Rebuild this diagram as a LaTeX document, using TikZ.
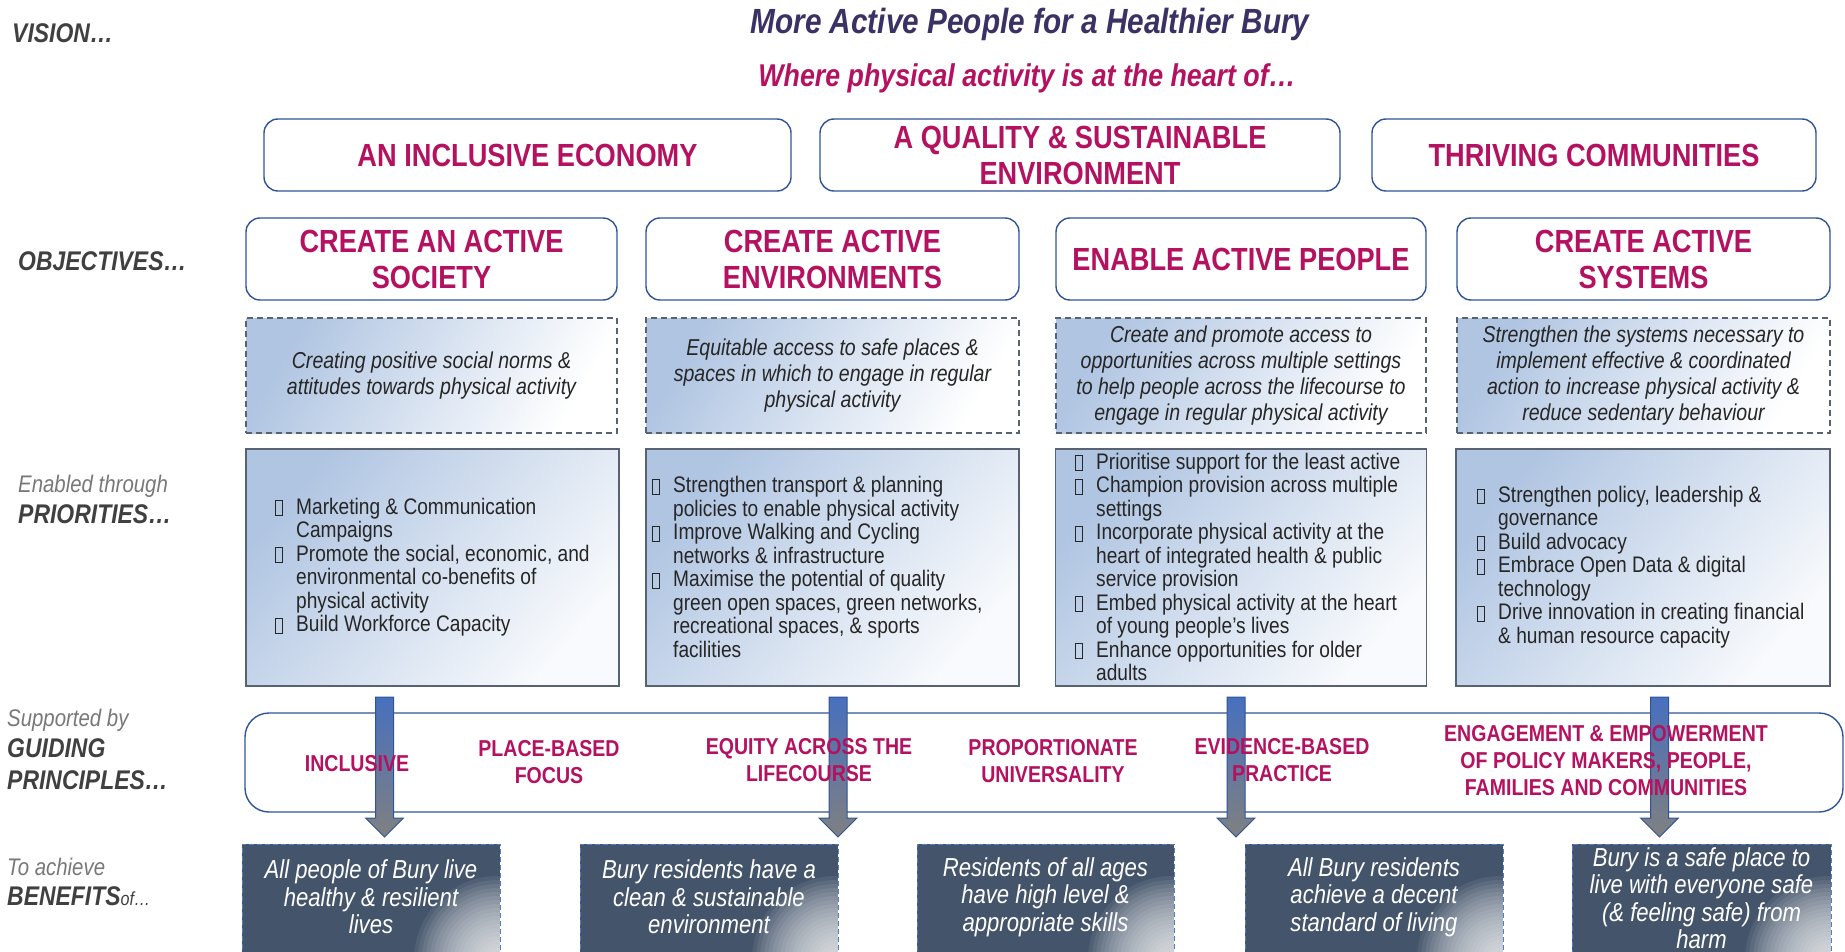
\documentclass[tikz,border=0pt]{standalone}
\usepackage{fontspec}
\setmainfont{Liberation Sans}[FakeStretch=0.85]
\usetikzlibrary{calc,positioning}

\definecolor{bmag}{RGB}{180,18,96}
\definecolor{btitle}{RGB}{58,50,100}
\definecolor{bblue}{RGB}{47,84,150}
\definecolor{bgrad}{RGB}{176,197,226}
\definecolor{bline}{RGB}{88,98,115}
\definecolor{bslate}{RGB}{68,84,106}
\definecolor{btext}{RGB}{38,38,38}
\definecolor{blabel}{RGB}{64,64,64}
\definecolor{bsoft}{RGB}{120,120,120}
\definecolor{arrtop}{RGB}{72,112,190}
\definecolor{arrbot}{RGB}{128,128,128}
\definecolor{bdash}{RGB}{78,125,205}

\newcommand\fs[2]{\fontsize{#1}{#2}\selectfont}
\newcommand\bul{\makebox[21pt][l]{\raisebox{-1pt}{\setlength\fboxsep{0pt}\setlength\fboxrule{0.8pt}\fbox{\rule{0pt}{14pt}\hspace{6pt}}}}}
\newcommand\ind{\hspace*{21pt}}

\tikzstyle{headbox}=[draw=bblue,line width=1.4pt,rounded corners=14pt,fill=white,text=bmag,font=\bfseries\fs{32}{36},align=center]
\tikzstyle{aimbox}=[draw=bline,line width=1.2pt,dash pattern=on 6pt off 4pt,top color=bgrad,bottom color=white,shading angle=60,text=btext,font=\itshape\fs{23}{26},align=center]
\tikzstyle{prbox}=[draw=bline,line width=1.2pt,top color=bgrad,bottom color=white!92!bgrad,shading angle=50]
\tikzstyle{prtext}=[anchor=west,text=btext,font=\fs{22.5}{23.5},align=left,inner sep=0pt]
\tikzstyle{gptext}=[text=bmag,font=\bfseries\fs{23}{27},align=center]
% white glare in the lower right corner
\tikzstyle{benbox}=[draw=bdash,line width=1pt,dash pattern=on 5pt off 3pt,fill=bslate,
  path picture={\foreach \r in {4,8,...,84} \fill[white,opacity=0.075] ([xshift=-2pt,yshift=4pt]path picture bounding box.south east) circle (\r pt);}]
\tikzstyle{bentext}=[text=white,font=\itshape\fs{26}{27.5},align=center]
\tikzstyle{sidebig}=[anchor=west,text=blabel,font=\bfseries\itshape\fs{27}{32},align=left,inner sep=0pt]
\tikzstyle{sidesmall}=[anchor=west,text=bsoft,font=\itshape\fs{24}{28},inner sep=0pt]
\tikzstyle{blockarr}=[top color=arrtop,bottom color=arrbot,draw=bblue,line width=1pt]

% shaft from #1 down to the tip #2
\newcommand\blockdown[2]{\path[blockarr] ($(#1)+(-9,0)$) -- ($(#1)+(9,0)$) -- ($(#2)+(9,-19)$) -- ($(#2)+(19,-19)$)
  -- (#2) -- ($(#2)+(-19,-19)$) -- ($(#2)+(-9,-19)$) -- cycle;}

\begin{document}
\begin{tikzpicture}[x=1pt,y=-1pt]
\useasboundingbox (0,0) rectangle (1845,952);
\clip (0,0) rectangle (1845,952);

% vision
\node[sidebig] (vision) at (12,33) {VISION…};
\node[text=btitle,font=\bfseries\itshape\fs{35}{38}] (title) at (1030,24) {More Active People for a Healthier Bury};
\node[text=bmag,font=\bfseries\itshape\fs{31.5}{34}] (subtitle) at (1027,78) {Where physical activity is at the heart of…};

\node[headbox,minimum width=527,minimum height=72] (econ) at (527.5,155) {AN INCLUSIVE ECONOMY};
\node[headbox,minimum width=520,minimum height=72] (envq) at (1080,155) {A QUALITY \& SUSTAINABLE\\ENVIRONMENT};
\node[headbox,minimum width=444,minimum height=72] (thrive) at (1594,155) {THRIVING COMMUNITIES};

% objectives
\node[sidebig] (objlab) at (18,261) {OBJECTIVES…};
\node[headbox,minimum width=371,minimum height=82] (obj1) at (431.5,259) {CREATE AN ACTIVE\\SOCIETY};
\node[headbox,minimum width=373,minimum height=82] (obj2) at (832.5,259) {CREATE ACTIVE\\ENVIRONMENTS};
\node[headbox,minimum width=370,minimum height=82] (obj3) at (1241,259) {ENABLE ACTIVE PEOPLE};
\node[headbox,minimum width=373,minimum height=82] (obj4) at (1643.5,259) {CREATE ACTIVE\\SYSTEMS};

\node[aimbox,minimum width=371,minimum height=115] (aim1) at (431.5,375.5) {Creating positive social norms \&\\attitudes towards physical activity};
\node[aimbox,minimum width=373,minimum height=115] (aim2) at (832.5,375.5) {Equitable access to safe places \&\\spaces in which to engage in regular\\physical activity};
\node[aimbox,minimum width=370,minimum height=115] (aim3) at (1241,375.5) {Create and promote access to\\opportunities across multiple settings\\to help people across the lifecourse to\\engage in regular physical activity};
\node[aimbox,minimum width=373,minimum height=115] (aim4) at (1643.5,375.5) {Strengthen the systems necessary to\\implement effective \& coordinated\\action to increase physical activity \&\\reduce sedentary behaviour};

% priorities
\node[sidesmall] (prsmall) at (18,486) {Enabled through};
\node[sidebig] (prlab) at (18,514) {PRIORITIES…};
\node[prbox,minimum width=373,minimum height=237] (pr1) at (432.5,567.5) {};
\node[prbox,minimum width=373,minimum height=237] (pr2) at (832.5,567.5) {};
\node[prbox,minimum width=371,minimum height=237] (pr3) at (1241,567.5) {};
\node[prbox,minimum width=374,minimum height=237] (pr4) at (1643,567.5) {};
\node[prtext] (prt1) at (275,567) {\bul Marketing \& Communication\\\ind Campaigns\\\bul Promote the social, economic, and\\\ind environmental co-benefits of\\\ind physical activity\\\bul Build Workforce Capacity};
\node[prtext] (prt2) at (652,567) {\bul Strengthen transport \& planning\\\ind policies to enable physical activity\\\bul Improve Walking and Cycling\\\ind networks \& infrastructure\\\bul Maximise the potential of quality\\\ind green open spaces, green networks,\\\ind recreational spaces, \& sports\\\ind facilities};
\node[prtext] (prt3) at (1075,567) {\bul Prioritise support for the least active\\\bul Champion provision across multiple\\\ind settings\\\bul Incorporate physical activity at the\\\ind heart of integrated health \& public\\\ind service provision\\\bul Embed physical activity at the heart\\\ind of young people’s lives\\\bul Enhance opportunities for older\\\ind adults};
\node[prtext] (prt4) at (1477,567) {\bul Strengthen policy, leadership \&\\\ind governance\\\bul Build advocacy\\\bul Embrace Open Data \& digital\\\ind technology\\\bul Drive innovation in creating financial\\\ind \& human resource capacity};

% guiding principles
\node[sidesmall] (gpsmall) at (7,720) {Supported by};
\node[sidebig] (gplab) at (7,764) {GUIDING\\PRINCIPLES…};
\node[draw=bblue,line width=1.4pt,rounded corners=24pt,fill=white,minimum width=1598,minimum height=99] (gpbox) at (1044,762.5) {};

% benefits
\node[sidesmall] (bnsmall) at (7,867) {To achieve};
\node[sidebig] (bnlab) at (7,896) {BENEFITS{\mdseries\fs{19}{20}of…}};
\node[benbox,minimum width=258,minimum height=120] (ben1) at (371,904) {};
\node[benbox,minimum width=258,minimum height=120] (ben2) at (709,904) {};
\node[benbox,minimum width=257,minimum height=120] (ben3) at (1045.5,904) {};
\node[benbox,minimum width=258,minimum height=120] (ben4) at (1374,904) {};
\node[benbox,minimum width=259,minimum height=120] (ben5) at (1701.5,904) {};
\node[bentext] (bt1) at (371,897) {All people of Bury live\\healthy \& resilient\\lives};
\node[bentext] (bt2) at (709,897) {Bury residents have a\\clean \& sustainable\\environment};
\node[bentext] (bt3) at (1045.5,897) {Residents of all ages\\have high level \&\\appropriate skills};
\node[bentext] (bt4) at (1374,897) {All Bury residents\\achieve a decent\\standard of living};
\node[bentext] (bt5) at (1701.5,898) {Bury is a safe place to\\live with everyone safe\\(\& feeling safe) from\\harm};

% arrows from priorities to benefits
\coordinate (a1s) at (384.5,697); \coordinate (a1e) at (384.5,837);
\coordinate (a2s) at (838,697); \coordinate (a2e) at (838,837);
\coordinate (a3s) at (1236,697); \coordinate (a3e) at (1236,837);
\coordinate (a4s) at (1659.5,697); \coordinate (a4e) at (1659.5,837);
\blockdown{a1s}{a1e}
\blockdown{a2s}{a2e}
\blockdown{a3s}{a3e}
\blockdown{a4s}{a4e}

\node[gptext] (gp1) at (357,764) {INCLUSIVE};
\node[gptext] (gp2) at (549,762) {PLACE-BASED\\FOCUS};
\node[gptext] (gp3) at (809,760) {EQUITY ACROSS THE\\LIFECOURSE};
\node[gptext] (gp4) at (1053,761) {PROPORTIONATE\\UNIVERSALITY};
\node[gptext] (gp5) at (1282,760) {EVIDENCE-BASED\\PRACTICE};
\node[gptext] (gp6) at (1606,761) {ENGAGEMENT \& EMPOWERMENT\\OF POLICY MAKERS, PEOPLE,\\FAMILIES AND COMMUNITIES};
\end{tikzpicture}
\end{document}
